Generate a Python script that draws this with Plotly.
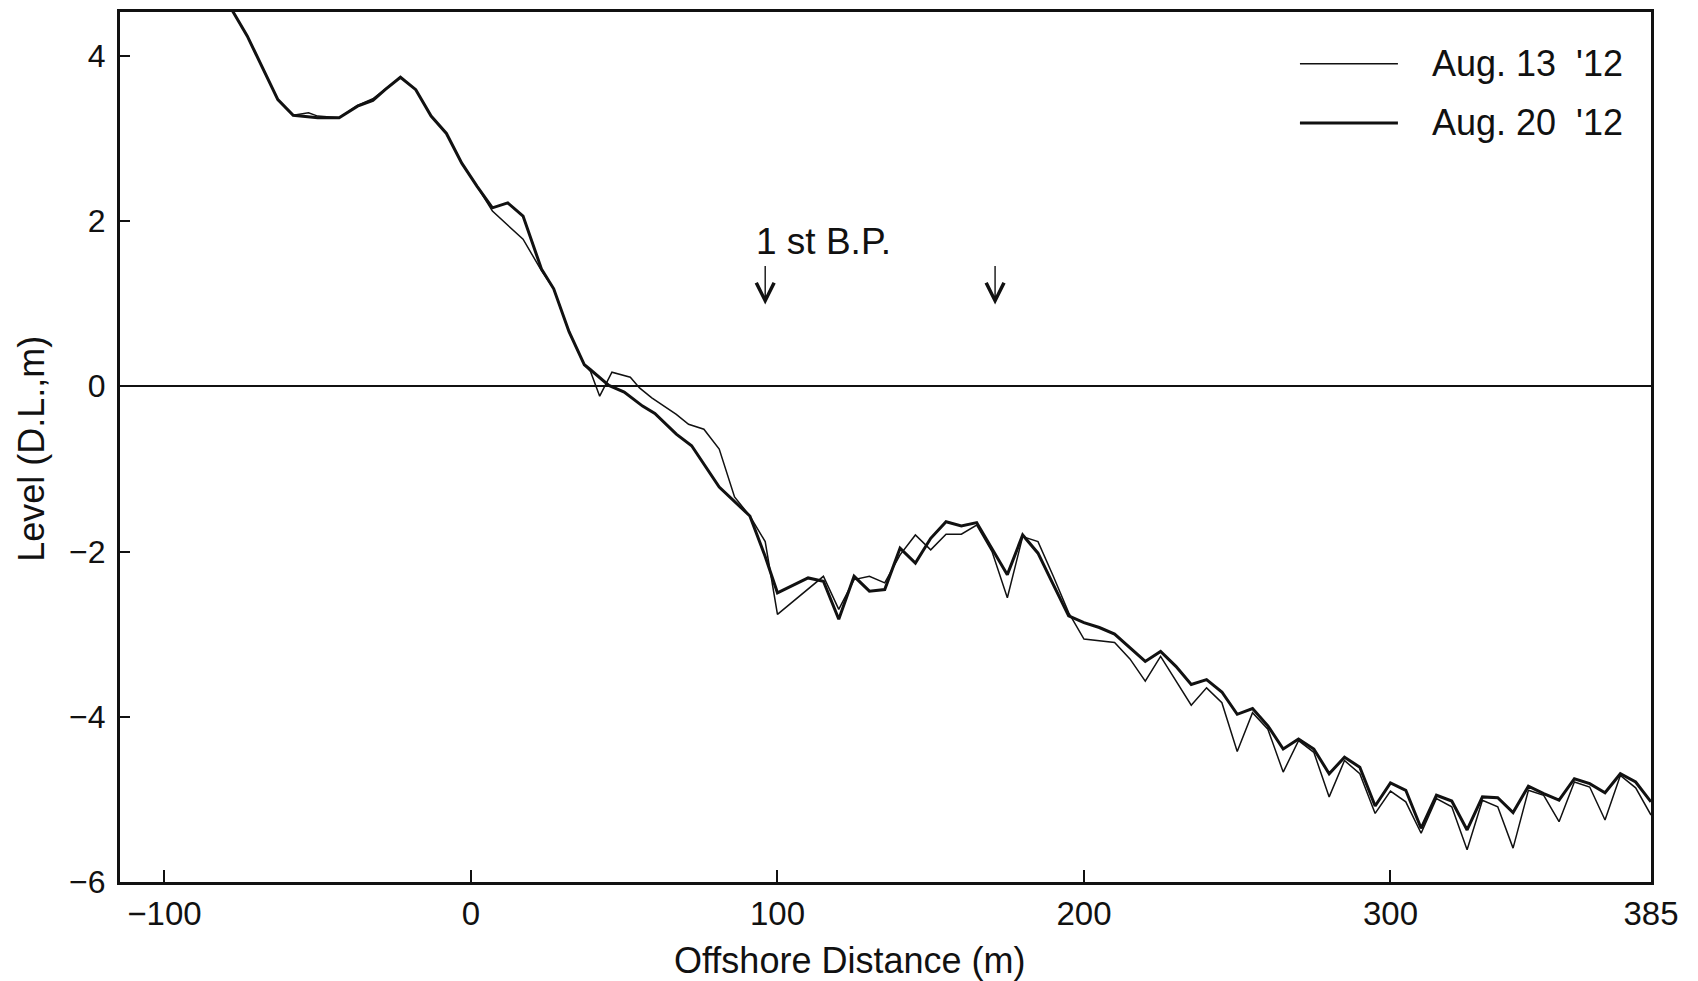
import plotly.graph_objects as go

# ---- data ----
dist_aug13 = [-79, -73, -63, -58, -53, -50, -43, -37, -32, -28, -23, -18, -13, -8, -3, 2, 7, 17, 23, 27, 32, 37, 39,
              42, 46, 52, 55, 59, 67, 71, 76, 81, 86, 91, 96, 100, 115, 120, 125, 130, 135, 140, 145, 150, 155, 160,
              165, 170, 175, 180, 185, 190, 195, 200, 205, 210, 215, 220, 225, 230, 235, 240, 245, 250, 255, 260,
              265, 270, 275, 280, 285, 290, 295, 300, 305, 310, 315, 320, 325, 330, 335, 340, 345, 350, 355, 360,
              365, 370, 375, 380, 385]
level_aug13 = [4.62, 4.24, 3.47, 3.28, 3.31, 3.27, 3.25, 3.40, 3.48, 3.60, 3.74, 3.59, 3.27, 3.06, 2.70, 2.42, 2.12,
               1.78, 1.40, 1.18, 0.66, 0.26, 0.18, -0.12, 0.17, 0.11, -0.02, -0.14, -0.34, -0.46, -0.52, -0.76,
               -1.34, -1.57, -1.88, -2.76, -2.30, -2.70, -2.34, -2.30, -2.38, -2.04, -1.80, -1.98, -1.79, -1.79,
               -1.68, -2.00, -2.56, -1.82, -1.88, -2.30, -2.74, -3.06, -3.08, -3.10, -3.30, -3.57, -3.27, -3.56,
               -3.86, -3.65, -3.83, -4.42, -3.95, -4.15, -4.67, -4.29, -4.43, -4.97, -4.53, -4.69, -5.17, -4.90,
               -5.03, -5.41, -4.99, -5.09, -5.61, -5.01, -5.09, -5.59, -4.89, -4.95, -5.27, -4.79, -4.85, -5.25,
               -4.71, -4.86, -5.19]

dist_aug20 = [-79, -73, -63, -58, -50, -43, -37, -32, -28, -23, -18, -13, -8, -3, 2, 7, 12, 17, 23, 27, 32, 37, 39,
              45, 50, 56, 60, 67, 72, 81, 91, 96, 100, 110, 115, 120, 125, 130, 135, 140, 145, 150, 155, 160, 165,
              170, 175, 180, 185, 190, 195, 200, 205, 210, 215, 220, 225, 230, 235, 240, 245, 250, 255, 260, 265,
              270, 275, 280, 285, 290, 295, 300, 305, 310, 315, 320, 325, 330, 335, 340, 345, 350, 355, 360, 365,
              370, 375, 380, 385]
level_aug20 = [4.62, 4.24, 3.47, 3.28, 3.25, 3.25, 3.39, 3.46, 3.59, 3.74, 3.59, 3.27, 3.06, 2.70, 2.42, 2.16, 2.22,
               2.06, 1.42, 1.18, 0.66, 0.26, 0.20, 0.01, -0.07, -0.24, -0.33, -0.58, -0.72, -1.22, -1.57, -2.06,
               -2.50, -2.32, -2.36, -2.82, -2.30, -2.48, -2.46, -1.96, -2.14, -1.84, -1.64, -1.69, -1.65, -1.96,
               -2.28, -1.80, -2.02, -2.40, -2.78, -2.86, -2.92, -3.00, -3.16, -3.33, -3.21, -3.39, -3.61, -3.55,
               -3.70, -3.97, -3.90, -4.11, -4.39, -4.27, -4.39, -4.69, -4.49, -4.61, -5.08, -4.80, -4.89, -5.35,
               -4.95, -5.02, -5.37, -4.97, -4.98, -5.16, -4.84, -4.93, -5.01, -4.75, -4.81, -4.92, -4.69, -4.79,
               -5.03]

series_names = ["Aug. 13\u00a0\u00a0'12", "Aug. 20\u00a0\u00a0'12"]
x_tick_vals = [-100, 0, 100, 200, 300, 385]
x_tick_text = ["\u2212100", "0", "100", "200", "300", "385"]
y_tick_vals = [-6, -4, -2, 0, 2, 4]
y_tick_text = ["\u22126", "\u22124", "\u22122", "0", "2", "4"]
bp_positions = [96, 171]

FONT = "Liberation Sans"
INK = "#111111"

fig = go.Figure()
fig.add_trace(go.Scatter(x=dist_aug13, y=level_aug13, mode="lines", name=series_names[0],
                         line=dict(color=INK, width=1.5), showlegend=False))
fig.add_trace(go.Scatter(x=dist_aug20, y=level_aug20, mode="lines", name=series_names[1],
                         line=dict(color=INK, width=3), showlegend=False))

fig.update_layout(
    width=1690, height=973,
    margin=dict(l=112, r=47, t=1, b=99),
    paper_bgcolor="white", plot_bgcolor="white",
    font=dict(family=FONT, size=32, color=INK),
    showlegend=False,
)
fig.update_xaxes(range=[-114.5, 385], tickvals=x_tick_vals, ticktext=x_tick_text,
                 ticks="inside", ticklen=12, tickwidth=2, tickcolor=INK,
                 showline=True, linecolor=INK, linewidth=3, mirror=True,
                 showgrid=False, zeroline=False, ticklabelstandoff=0,
                 tickfont=dict(size=33, family=FONT, color=INK))
fig.update_yaxes(range=[-6, 4.53], tickvals=y_tick_vals, ticktext=y_tick_text,
                 ticks="inside", ticklen=10, tickwidth=2, tickcolor=INK,
                 showline=True, linecolor=INK, linewidth=3, mirror=True,
                 showgrid=False, zeroline=True, zerolinecolor=INK, zerolinewidth=1.8,
                 ticklabelstandoff=5,
                 tickfont=dict(size=32, family=FONT, color=INK))

annotations = []
# axis titles
annotations.append(dict(text="Offshore Distance (m)", xref="paper", yref="paper", x=0.4768, y=-0.0899,
                        xanchor="center", yanchor="middle", showarrow=False,
                        font=dict(size=36, family=FONT, color=INK)))
annotations.append(dict(text="Level (D.L.,m)", xref="paper", yref="paper", x=-0.0575, y=0.498,
                        xanchor="center", yanchor="middle", showarrow=False, textangle=-90,
                        font=dict(size=36, family=FONT, color=INK)))
# breakpoint label and arrows
annotations.append(dict(text="1 st B.P.", x=92.3, y=1.75, xref="x", yref="y", xanchor="left",
                        yanchor="middle", showarrow=False, font=dict(size=37, family=FONT, color=INK)))
for bp in bp_positions:
    annotations.append(dict(x=bp, y=0.99, xref="x", yref="y", text="", showarrow=True,
                            ax=0, ay=-40, arrowhead=5, arrowsize=2.5, arrowwidth=1.4, arrowcolor=INK))
# legend (drawn manually to reproduce the long line samples)
legend_rows = [(0.9405, 1.5), (0.8725, 3)]
shapes = []
for (ypos, lw), name in zip(legend_rows, series_names):
    shapes.append(dict(type="line", xref="paper", yref="paper", x0=0.7707, x1=0.8347, y0=ypos, y1=ypos,
                       line=dict(color=INK, width=lw)))
    annotations.append(dict(text=name, xref="paper", yref="paper", x=0.8557, y=ypos, xanchor="left",
                            yanchor="middle", showarrow=False, font=dict(size=36, family=FONT, color=INK)))

fig.update_layout(annotations=annotations, shapes=shapes)
fig.write_html("out.html")
